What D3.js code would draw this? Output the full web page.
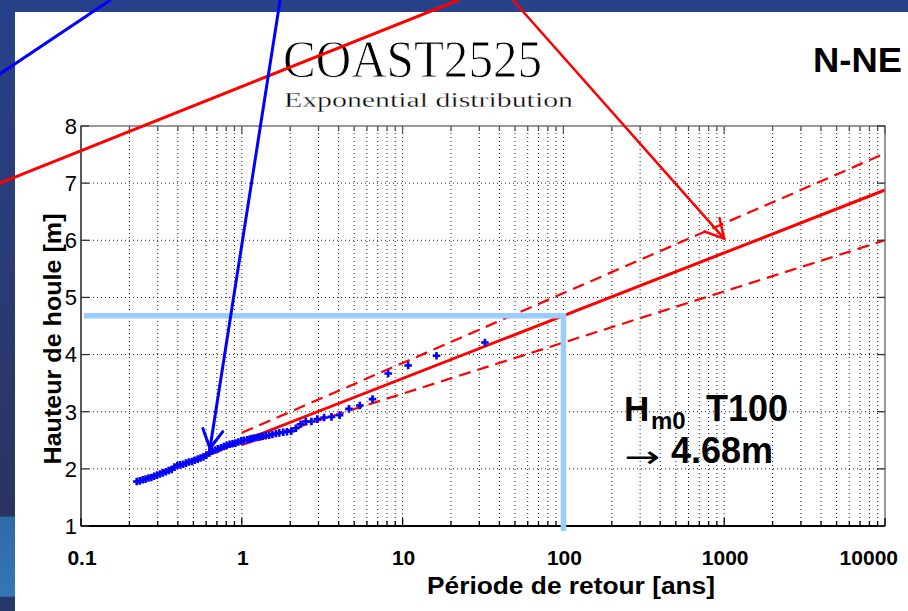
<!DOCTYPE html>
<html>
<head>
<meta charset="utf-8">
<script src="https://cdn.jsdelivr.net/npm/d3@7"></script>
<style>
body { margin: 0; background: #fff; }
svg { display: block; }
</style>
</head>
<body>
<div class="chart"></div>
<script>
// periodes de retour [ans] et hauteurs [m]
var periodes = [0.222, 0.232, 0.242, 0.252, 0.263, 0.274, 0.285, 0.297, 0.310, 0.323,
    0.337, 0.351, 0.366, 0.381, 0.397, 0.414, 0.432, 0.450, 0.469, 0.489,
    0.510, 0.532, 0.554, 0.578, 0.602, 0.628, 0.655, 0.683, 0.712, 0.742,
    0.773, 0.806, 0.840, 0.876, 0.913, 0.952, 0.992, 1.03, 1.08, 1.12,
    1.16, 1.20, 1.25, 1.30, 1.35, 1.41, 1.48, 1.55, 1.63, 1.71,
    1.81, 1.91, 2.03, 2.17, 2.32, 2.50, 2.71, 2.95, 3.25, 3.61,
    4.06, 4.64, 5.42, 6.50, 8.13, 10.83, 16.25, 32.5];
var hauteurs = [1.78, 1.79, 1.81, 1.82, 1.84, 1.85, 1.87, 1.89, 1.91, 1.93,
    1.95, 1.97, 1.99, 2.03, 2.06, 2.07, 2.08, 2.10, 2.12, 2.13,
    2.15, 2.17, 2.19, 2.21, 2.24, 2.28, 2.31, 2.33, 2.35, 2.37,
    2.39, 2.41, 2.43, 2.44, 2.45, 2.47, 2.49, 2.50, 2.51, 2.52,
    2.53, 2.54, 2.55, 2.56, 2.57, 2.58, 2.59, 2.60, 2.62, 2.63,
    2.64, 2.65, 2.66, 2.71, 2.78, 2.83, 2.83, 2.87, 2.90, 2.91,
    2.94, 3.05, 3.11, 3.22, 3.67, 3.81, 3.98, 4.21];

// ajustement exponentiel et intervalle de confiance
var ajustT = [0.22, 10000];
var ajustH = [1.76, 6.88];
var supT = [1, 10000];
var supH = [2.63, 7.52];
var infT = [1, 10000];
var infH = [2.42, 6.00];

var xTicks = [0.1, 1, 10, 100, 1000, 10000];
var xTickLabels = ["0.1", "1", "10", "100", "1000", "10000"];
var yTicks = [1, 2, 3, 4, 5, 6, 7, 8];

var retourT = 100;
var retourH = 4.68;

// fleches et traits ajoutes sur la diapo (en unites du graphe)
var flecheBleue = [[1.73, 10.2], [0.634, 2.36]];
var traitBleu = [[0.0313, 8.91], [0.1515, 10.2]];
var traitRouge = [[0.0313, 7.0], [22.1, 10.2]];
var flecheRouge = [[48.6, 10.2], [1000, 6.03]];

var svg = d3.select(".chart")
    .append("svg")
    .attr("width", 908)
    .attr("height", 611);

var x = d3.scaleLog().domain([0.1, 10000]).range([81, 885]);
var y = d3.scaleLinear().domain([1, 8]).range([526, 126]);

// fond de la diapo
var defs = svg.append("defs");
var grad = defs.append("linearGradient")
    .attr("id", "bande")
    .attr("x1", 0).attr("y1", 0).attr("x2", 0).attr("y2", 1);
grad.append("stop").attr("offset", "0%").attr("stop-color", "#27418b");
grad.append("stop").attr("offset", "45%").attr("stop-color", "#2a3b74");
grad.append("stop").attr("offset", "84.5%").attr("stop-color", "#2b3460");
grad.append("stop").attr("offset", "84.6%").attr("stop-color", "#2f69a8");
grad.append("stop").attr("offset", "97.6%").attr("stop-color", "#3577b5");
grad.append("stop").attr("offset", "97.7%").attr("stop-color", "#28376a");
grad.append("stop").attr("offset", "100%").attr("stop-color", "#28376a");

svg.append("rect").attr("x", 0).attr("y", 0).attr("width", 908).attr("height", 611).attr("fill", "#fff");
svg.append("rect").attr("x", 0).attr("y", 0).attr("width", 15).attr("height", 611).attr("fill", "url(#bande)");
svg.append("rect").attr("x", 0).attr("y", 0).attr("width", 908).attr("height", 12).attr("fill", "#27418b");

// grille pointillee
var isMajor = function (d) {
    var l = Math.log10(d);
    return Math.abs(l - Math.round(l)) < 1e-6;
};
var allX = x.ticks(20);

var grid = svg.append("g").attr("class", "grid");
grid.selectAll(".gx")
    .data(allX.filter(function (d) { return d > 0.1 && d < 10000; }))
    .enter()
    .append("line")
    .attr("x1", function (d) { return x(d); })
    .attr("x2", function (d) { return x(d); })
    .attr("y1", y(1))
    .attr("y2", y(8))
    .style("stroke", "#222")
    .style("stroke-width", 1)
    .style("stroke-dasharray", "1,3");
grid.selectAll(".gy")
    .data(yTicks.slice(1, -1))
    .enter()
    .append("line")
    .attr("x1", x(0.1))
    .attr("x2", x(10000))
    .attr("y1", function (d) { return y(d); })
    .attr("y2", function (d) { return y(d); })
    .style("stroke", "#222")
    .style("stroke-width", 1)
    .style("stroke-dasharray", "1,3");

// courbes rouges
var ligne = d3.line()
    .x(function (d) { return x(d[0]); })
    .y(function (d) { return y(d[1]); });

var courbes = svg.append("g");
courbes.append("path")
    .attr("d", ligne(d3.zip(supT, supH)))
    .style("fill", "none").style("stroke", "#ff0000")
    .style("stroke-width", 2.2).style("stroke-dasharray", "12,7");
courbes.append("path")
    .attr("d", ligne(d3.zip(infT, infH)))
    .style("fill", "none").style("stroke", "#ff0000")
    .style("stroke-width", 2.2).style("stroke-dasharray", "12,7");
courbes.append("path")
    .attr("d", ligne(d3.zip(ajustT, ajustH)))
    .style("fill", "none").style("stroke", "#ff0000")
    .style("stroke-width", 3);

// points observes (+)
svg.append("g")
    .selectAll(".pt")
    .data(d3.zip(periodes, hauteurs))
    .enter()
    .append("path")
    .attr("transform", function (d) { return "translate(" + x(d[0]) + "," + y(d[1]) + ")"; })
    .attr("d", "M-3.8,0H3.8M0,-3.8V3.8")
    .style("stroke", "#0000ff")
    .style("stroke-width", 2.6);

// cadre et graduations
var axes = svg.append("g");
axes.append("rect")
    .attr("x", x(0.1)).attr("y", y(8))
    .attr("width", x(10000) - x(0.1)).attr("height", y(1) - y(8))
    .style("fill", "none").style("stroke", "#777").style("stroke-width", 1.5);
axes.append("line")
    .attr("x1", x(0.1)).attr("x2", x(10000)).attr("y1", y(1)).attr("y2", y(1))
    .style("stroke", "#000").style("stroke-width", 2);
axes.append("line")
    .attr("x1", x(0.1)).attr("x2", x(0.1)).attr("y1", y(1)).attr("y2", y(8))
    .style("stroke", "#444").style("stroke-width", 1.5);

axes.selectAll(".tb")
    .data(allX)
    .enter()
    .append("line")
    .attr("x1", function (d) { return x(d); })
    .attr("x2", function (d) { return x(d); })
    .attr("y1", y(1))
    .attr("y2", function (d) { return y(1) - (isMajor(d) ? 8 : 5); })
    .style("stroke", "#000").style("stroke-width", 1.3);
axes.selectAll(".tt")
    .data(allX)
    .enter()
    .append("line")
    .attr("x1", function (d) { return x(d); })
    .attr("x2", function (d) { return x(d); })
    .attr("y1", y(8))
    .attr("y2", function (d) { return y(8) + (isMajor(d) ? 8 : 5); })
    .style("stroke", "#555").style("stroke-width", 1.3);
axes.selectAll(".tl")
    .data(yTicks)
    .enter()
    .append("line")
    .attr("x1", x(0.1)).attr("x2", x(0.1) + 8)
    .attr("y1", function (d) { return y(d); })
    .attr("y2", function (d) { return y(d); })
    .style("stroke", "#333").style("stroke-width", 1.3);
axes.selectAll(".tr")
    .data(yTicks)
    .enter()
    .append("line")
    .attr("x1", x(10000)).attr("x2", x(10000) - 8)
    .attr("y1", function (d) { return y(d); })
    .attr("y2", function (d) { return y(d); })
    .style("stroke", "#333").style("stroke-width", 1.3);

// etiquettes
axes.selectAll(".ly")
    .data(yTicks)
    .enter()
    .append("text")
    .attr("x", x(0.1) - 4)
    .attr("y", function (d) { return y(d); })
    .attr("dy", "0.36em")
    .attr("text-anchor", "end")
    .style("font-family", "Liberation Sans, Arial, sans-serif")
    .style("font-size", "22px")
    .text(function (d) { return d; });

axes.selectAll(".lx")
    .data(xTicks)
    .enter()
    .append("text")
    .attr("x", function (d, i) { return i == xTicks.length - 1 ? 898 : x(d) + 1; })
    .attr("y", 565)
    .attr("text-anchor", function (d, i) { return i == xTicks.length - 1 ? "end" : "middle"; })
    .style("font-family", "Liberation Sans, Arial, sans-serif")
    .style("font-size", "21px")
    .style("font-weight", "bold")
    .text(function (d, i) { return xTickLabels[i]; });

svg.append("text")
    .attr("x", 427).attr("y", 594)
    .attr("textLength", 288).attr("lengthAdjust", "spacingAndGlyphs")
    .style("font-family", "Liberation Sans, Arial, sans-serif")
    .style("font-size", "23px").style("font-weight", "bold")
    .text("Période de retour [ans]");

svg.append("text")
    .attr("transform", "translate(61,339) rotate(-90)")
    .attr("text-anchor", "middle")
    .attr("textLength", 251).attr("lengthAdjust", "spacingAndGlyphs")
    .style("font-family", "Liberation Sans, Arial, sans-serif")
    .style("font-size", "24px").style("font-weight", "bold")
    .text("Hauteur de houle [m]");

// titre style LaTeX : on amincit un peu les traits
svg.append("text")
    .attr("x", 283).attr("y", 77)
    .attr("textLength", 259).attr("lengthAdjust", "spacingAndGlyphs")
    .style("font-family", "Liberation Serif, serif")
    .style("font-size", "52px")
    .style("stroke", "#fff").style("stroke-width", 0.9)
    .text("COAST2525");
svg.append("text")
    .attr("x", 284).attr("y", 107)
    .attr("textLength", 289).attr("lengthAdjust", "spacingAndGlyphs")
    .style("font-family", "Liberation Serif, serif")
    .style("font-size", "20px")
    .style("stroke", "#fff").style("stroke-width", 0.3)
    .text("Exponential distribution");

svg.append("text")
    .attr("x", 813).attr("y", 72)
    .attr("textLength", 89).attr("lengthAdjust", "spacingAndGlyphs")
    .style("font-family", "Liberation Sans, Arial, sans-serif")
    .style("font-size", "35px").style("font-weight", "bold")
    .text("N-NE");

// periode de retour 100 ans
svg.append("line")
    .attr("x1", x(0.1) + 3).attr("x2", x(retourT) + 2.5)
    .attr("y1", y(retourH)).attr("y2", y(retourH))
    .style("stroke", "#99ccff").style("stroke-width", 5.5);
svg.append("line")
    .attr("x1", x(retourT)).attr("x2", x(retourT))
    .attr("y1", y(retourH) - 2.5).attr("y2", y(1) + 5)
    .style("stroke", "#99ccff").style("stroke-width", 5.5);

var note = svg.append("g")
    .style("font-family", "Liberation Sans, Arial, sans-serif")
    .style("font-weight", "bold");
note.append("text").attr("x", 624).attr("y", 421).style("font-size", "35px").text("H");
note.append("text").attr("x", 651).attr("y", 429).style("font-size", "24px").text("m0");
note.append("text").attr("x", 706).attr("y", 421).style("font-size", "36px").text("T100");
note.append("text").attr("x", 624).attr("y", 467)
    .attr("textLength", 36).attr("lengthAdjust", "spacingAndGlyphs")
    .style("font-family", "DejaVu Sans, sans-serif")
    .style("font-weight", "normal").style("font-size", "30px").text("→");
note.append("text").attr("x", 671).attr("y", 463).style("font-size", "36px").text("4.68m");

// fleches
function fleche (pts, couleur, largeur, tete)
{
    var p0 = [x(pts[0][0]), y(pts[0][1])];
    var p1 = [x(pts[1][0]), y(pts[1][1])];
    svg.append("line")
        .attr("x1", p0[0]).attr("y1", p0[1])
        .attr("x2", p1[0]).attr("y2", p1[1])
        .style("stroke", couleur).style("stroke-width", largeur)
        .style("stroke-linecap", "round");
    if (!tete) return;
    var a = Math.atan2(p0[1] - p1[1], p0[0] - p1[0]);
    [-0.5, 0.5].forEach(function (da)
    {
        svg.append("line")
            .attr("x1", p1[0]).attr("y1", p1[1])
            .attr("x2", p1[0] + 21 * Math.cos(a + da))
            .attr("y2", p1[1] + 21 * Math.sin(a + da))
            .style("stroke", couleur).style("stroke-width", largeur)
            .style("stroke-linecap", "round");
    });
}

fleche(traitBleu, "#0000ff", 3, false);
fleche(traitRouge, "#ff0000", 3, false);
fleche(flecheBleue, "#0000ff", 3, true);
fleche(flecheRouge, "#ff0000", 2.5, true);
</script>
</body>
</html>
